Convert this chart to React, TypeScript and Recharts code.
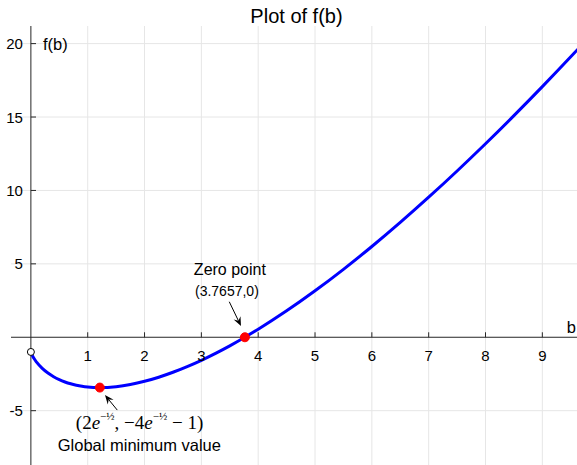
import { LineChart, Line, XAxis, YAxis, ReferenceLine, ReferenceDot } from 'recharts';

// samples of f(b)
const bValues = [0, 0.01, 0.02, 0.05, 0.1, 0.2, 0.3, 0.4, 0.5, 0.6, 0.7, 0.8, 0.9, 1.0, 1.1, 1.2131, 1.3, 1.4, 1.5, 1.75, 2.0, 2.25, 2.5, 2.75, 3.0, 3.25, 3.5, 3.7657, 4.0, 4.5, 5.0, 5.5, 6.0, 6.5, 7.0, 7.5, 8.0, 8.5, 9.0, 9.5, 9.7];
const fValues = [-1, -1.116, -1.204, -1.419, -1.699, -2.121, -2.438, -2.688, -2.886, -3.045, -3.17, -3.266, -3.337, -3.386, -3.415, -3.426, -3.42, -3.399, -3.363, -3.217, -3.0, -2.72, -2.384, -1.998, -1.567, -1.094, -0.583, 0, 0.545, 1.798, 3.163, 4.628, 6.183, 7.823, 9.539, 11.326, 13.181, 15.098, 17.073, 19.105, 19.932];

const xTicks = [1, 2, 3, 4, 5, 6, 7, 8, 9];
const yTicks = [-5, 5, 10, 15, 20];

const zeroPoint = { b: 3.7657, f: 0 };
const minPoint = { b: 1.2131, f: -3.4261 };
const startPoint = { b: 0, f: -1 };

const data = bValues.map((b, i) => ({ b, f: fValues[i] }));

const AXIS = '#262626';
const GRID = '#e6e6e6';
const SANS = '"Liberation Sans", Arial, Helvetica, sans-serif';
const SERIF = '"Liberation Serif", "Times New Roman", serif';

const textAt = (str: string, dx: number, dy: number, size: number, anchor: 'start' | 'middle' | 'end' = 'middle') =>
  (p: any) => (
    <text x={p.cx + dx} y={p.cy + dy} fontSize={size} fontFamily={SANS} fill="#000" textAnchor={anchor}>
      {str}
    </text>
  );

const arrowShape = (p: any) => {
  const { x1, y1, x2, y2 } = p;
  const a = Math.atan2(y2 - y1, x2 - x1);
  const c = Math.cos(a), s = Math.sin(a);
  const L = 9, W = 3.8;
  const bx = x2 - L * c, by = y2 - L * s;
  const nx = x2 - L * 0.65 * c, ny = y2 - L * 0.65 * s;
  return (
    <g>
      <line x1={x1} y1={y1} x2={nx} y2={ny} stroke="#000" strokeWidth={1} />
      <polygon
        points={`${x2},${y2} ${bx - W * s},${by + W * c} ${nx},${ny} ${bx + W * s},${by - W * c}`}
        fill="#000"
      />
    </g>
  );
};

const minLabel = (p: any) => (
  <g fill="#000">
    <text x={p.cx - 24} y={p.cy + 41} fontSize={19} fontFamily={SERIF}>
      <tspan>(2</tspan>
      <tspan fontStyle="italic">e</tspan>
      <tspan fontSize={11} dy={-9}>−½</tspan>
      <tspan fontSize={19} dy={9}>,  −4</tspan>
      <tspan fontStyle="italic">e</tspan>
      <tspan fontSize={11} dy={-9}>−½</tspan>
      <tspan fontSize={19} dy={9}> − 1)</tspan>
    </text>
    <text x={p.cx + 39.5} y={p.cy + 63} fontSize={16.5} fontFamily={SANS} textAnchor="middle">
      Global minimum value
    </text>
  </g>
);

export default function App() {
  return (
    <div style={{ position: 'absolute', left: 0, top: 0, width: 577, height: 465, background: '#fff' }}>
      <LineChart width={577} height={465} data={data} margin={{ top: 26, right: 0, bottom: 0, left: 11 }}>
        <XAxis type="number" dataKey="b" domain={[-0.35, 9.61]} hide allowDataOverflow />
        <YAxis type="number" domain={[-8.7, 21.2]} hide allowDataOverflow />

        {xTicks.map((t) => (
          <ReferenceLine key={`gx${t}`} x={t} stroke={GRID} strokeWidth={1} />
        ))}
        {yTicks.map((t) => (
          <ReferenceLine key={`gy${t}`} y={t} stroke={GRID} strokeWidth={1} />
        ))}

        <ReferenceLine y={0} stroke={AXIS} strokeWidth={1} />
        <ReferenceLine x={0} stroke={AXIS} strokeWidth={1} />

        {xTicks.map((t) => (
          <ReferenceLine key={`tx${t}`} segment={[{ x: t, y: 0 }, { x: t, y: 0.34 }]} stroke={AXIS} />
        ))}
        {yTicks.map((t) => (
          <ReferenceLine key={`ty${t}`} segment={[{ x: 0, y: t }, { x: 0.09, y: t }]} stroke={AXIS} />
        ))}
        {xTicks.map((t) => (
          <ReferenceDot key={`lx${t}`} x={t} y={0} shape={textAt(String(t), 0, 24, 15)} />
        ))}
        {yTicks.map((t) => (
          <ReferenceDot key={`ly${t}`} x={0} y={t} shape={textAt(String(t), -8, 5.5, 15, 'end')} />
        ))}

        <ReferenceDot x={0} y={20} shape={textAt('f(b)', 12, 6, 16.5, 'start')} />
        <ReferenceDot x={9.61} y={0} ifOverflow="visible" shape={textAt('b', -1, -4, 16.5, 'end')} />

        <Line
          type="monotone"
          dataKey="f"
          stroke="#0000ff"
          strokeWidth={3}
          dot={false}
          activeDot={false}
          isAnimationActive={false}
        />

        <ReferenceDot x={startPoint.b} y={startPoint.f} r={3.5} fill="#fff" stroke="#000" strokeWidth={1} />
        <ReferenceDot x={zeroPoint.b} y={zeroPoint.f} r={4.5} fill="#ff0000" stroke="#ff0000" />
        <ReferenceDot x={minPoint.b} y={minPoint.f} r={4.5} fill="#ff0000" stroke="#ff0000" />

        <ReferenceLine segment={[{ x: 3.491, y: 2.418 }, { x: 3.697, y: 0.763 }]} shape={arrowShape} />
        <ReferenceLine segment={[{ x: 1.52, y: -4.959 }, { x: 1.304, y: -3.937 }]} shape={arrowShape} />

        <ReferenceDot x={zeroPoint.b} y={zeroPoint.f} shape={textAt('Zero point', -15, -62, 16)} />
        <ReferenceDot x={zeroPoint.b} y={zeroPoint.f} shape={textAt('(3.7657,0)', -18, -41, 14)} />
        <ReferenceDot x={minPoint.b} y={minPoint.f} shape={minLabel} />
      </LineChart>
      <svg width={577} height={40} style={{ position: 'absolute', left: 0, top: 0, pointerEvents: 'none' }}>
        <text x={296.5} y={23} fontSize={20} fontFamily={SANS} textAnchor="middle" fill="#000">
          Plot of f(b)
        </text>
      </svg>
    </div>
  );
}
